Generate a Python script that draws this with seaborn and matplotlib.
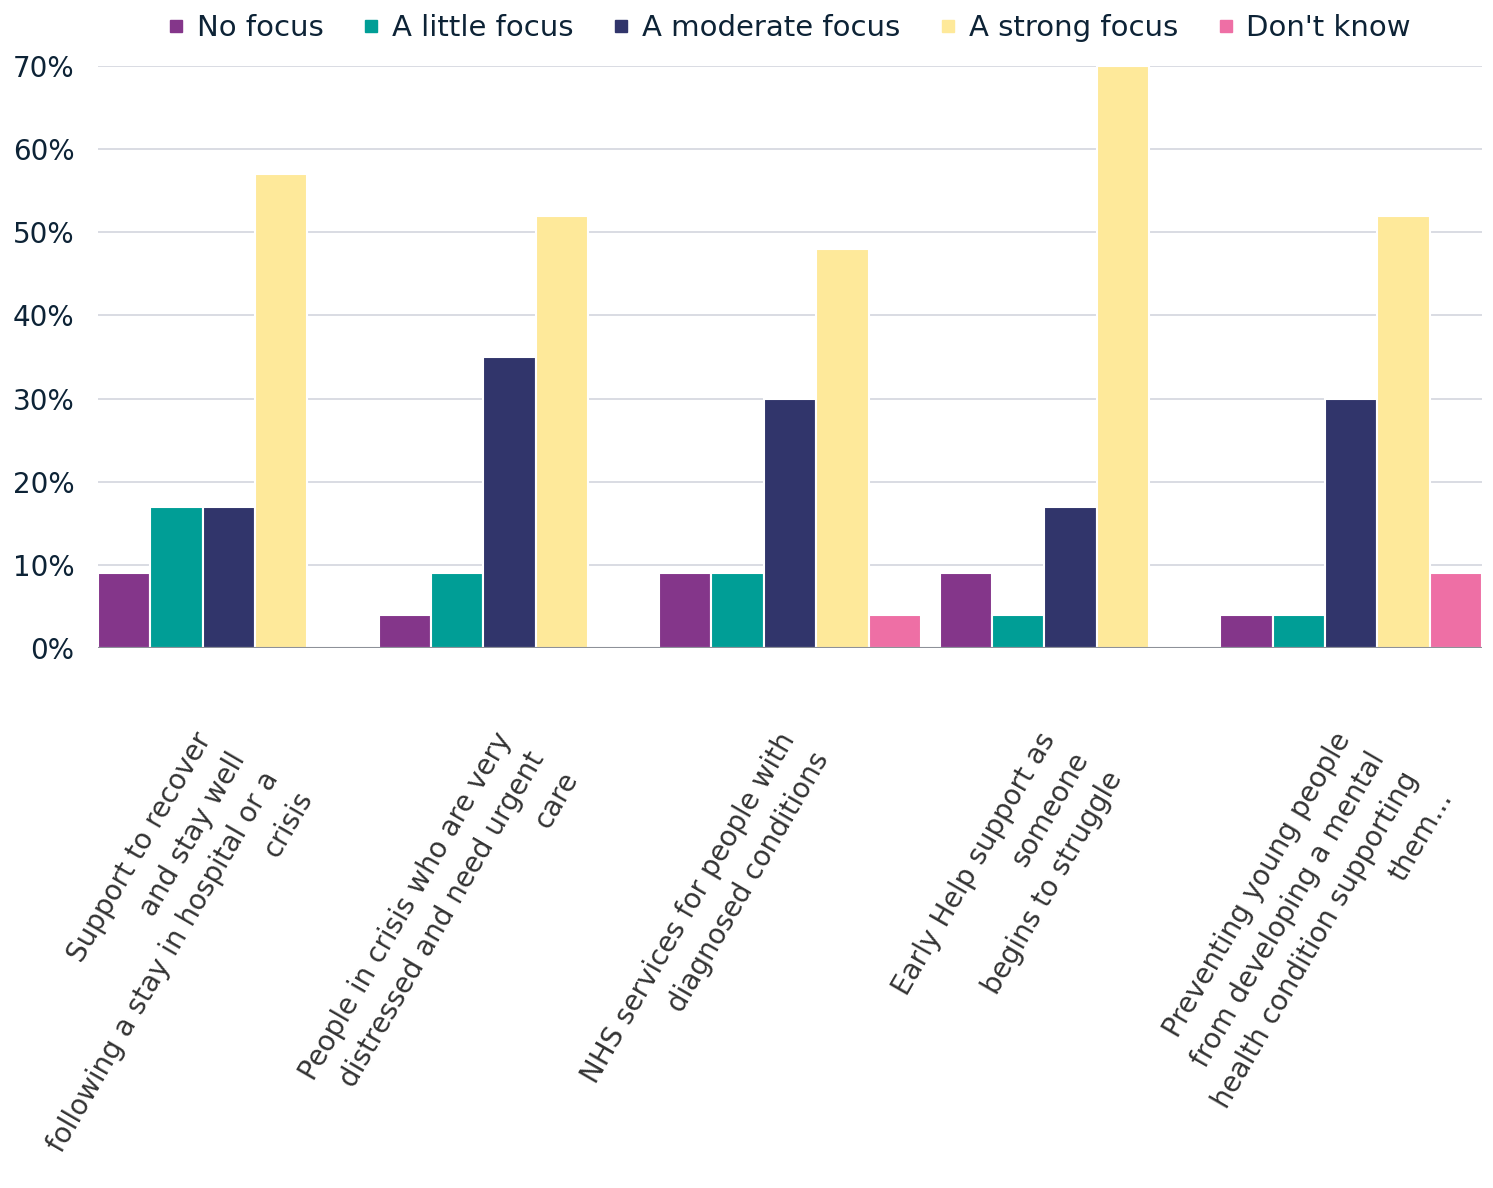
import matplotlib
matplotlib.use("Agg")
import matplotlib.pyplot as plt
import seaborn as sns
import pandas as pd
import numpy as np
from matplotlib.transforms import ScaledTranslation, blended_transform_factory
from matplotlib.lines import Line2D

# ---------------- data ----------------
categories = [
    "Support to recover\nand stay well\nfollowing a stay in hospital or a\ncrisis",
    "People in crisis who are very\ndistressed and need urgent\ncare",
    "NHS services for people with\ndiagnosed conditions",
    "Early Help support as\nsomeone\nbegins to struggle",
    "Preventing young people\nfrom developing a mental\nhealth condition supporting\nthem...",
]
series = ["No focus", "A little focus", "A moderate focus", "A strong focus", "Don't know"]
no_focus = [9, 4, 9, 9, 4]
little_focus = [17, 9, 9, 4, 4]
moderate_focus = [17, 35, 30, 17, 30]
strong_focus = [57, 52, 48, 70, 52]
dont_know = [0, 0, 4, 0, 9]
yticks = [0, 10, 20, 30, 40, 50, 60, 70]
ytick_labels = ["0%", "10%", "20%", "30%", "40%", "50%", "60%", "70%"]

# ---------------- styles ----------------
colors = ["#84368a", "#009e96", "#31356b", "#fee99a", "#ee6fa5"]
text_dark = "#0d2336"
label_dx_px = [-36, -17, -13, -34, -19]
label_dy_px = -80
line_step_px = 39
angle = 60

values = [no_focus, little_focus, moderate_focus, strong_focus, dont_know]
rows = []
for s, vals in zip(series, values):
    for c, v in zip(categories, vals):
        rows.append({"category": c, "series": s, "value": v})
df = pd.DataFrame(rows)

W, H = 1493, 1188
fig = plt.figure(figsize=(W / 100, H / 100), dpi=100)
ax = fig.add_axes([98 / W, 1 - 648 / H, 1384 / W, (648 - 66) / H])

sns.barplot(data=df, x="category", y="value", hue="series", order=categories,
            hue_order=series, palette=colors, width=0.933, errorbar=None,
            edgecolor="white", linewidth=1.5, saturation=1, ax=ax, zorder=2)
if ax.get_legend() is not None:
    ax.get_legend().remove()

ax.set_xlim(-0.4665, len(categories) - 1 + 0.4665)
ax.set_ylim(0, 70)
ax.set_yticks(yticks)
ax.set_yticklabels(ytick_labels, fontsize=20, color=text_dark, family="DejaVu Sans")
ax.tick_params(axis="y", length=0, pad=17)
ax.set_xticks([])
ax.set_xlabel("")
ax.set_ylabel("")
for sp in ax.spines.values():
    sp.set_visible(False)
ax.set_axisbelow(True)
ax.yaxis.grid(True, color="#d3d6de", linewidth=1.2, zorder=0)
ax.axhline(0, color="#8d9199", linewidth=1.5, zorder=5)

# category labels: each line right-aligned, rotated, stacked perpendicular
base = blended_transform_factory(ax.transData, ax.transAxes)
px = np.sin(np.radians(angle))
py = np.cos(np.radians(angle))
for i, (lab, dx) in enumerate(zip(categories, label_dx_px)):
    for k, line in enumerate(lab.split("\n")):
        ox = dx + k * line_step_px * px
        oy = label_dy_px - k * line_step_px * py
        tr = base + ScaledTranslation(ox / 100, oy / 100, fig.dpi_scale_trans)
        ax.text(i, 0, line, transform=tr, rotation=angle, rotation_mode="anchor",
                ha="right", va="top", fontsize=20, color="#333333",
                family="DejaVu Sans")

# legend
handles = [Line2D([], [], marker="s", linestyle="none", markersize=9,
                  markerfacecolor=c, markeredgecolor=c) for c in colors]
fig.legend(handles, series, loc="center", bbox_to_anchor=(790 / W, 1 - 28 / H),
           ncol=5, frameon=False, labelcolor=text_dark,
           handlelength=0.5, handletextpad=0.45, columnspacing=1.4,
           prop={"family": "DejaVu Sans", "size": 21})

fig.savefig("out.png", dpi=100)
